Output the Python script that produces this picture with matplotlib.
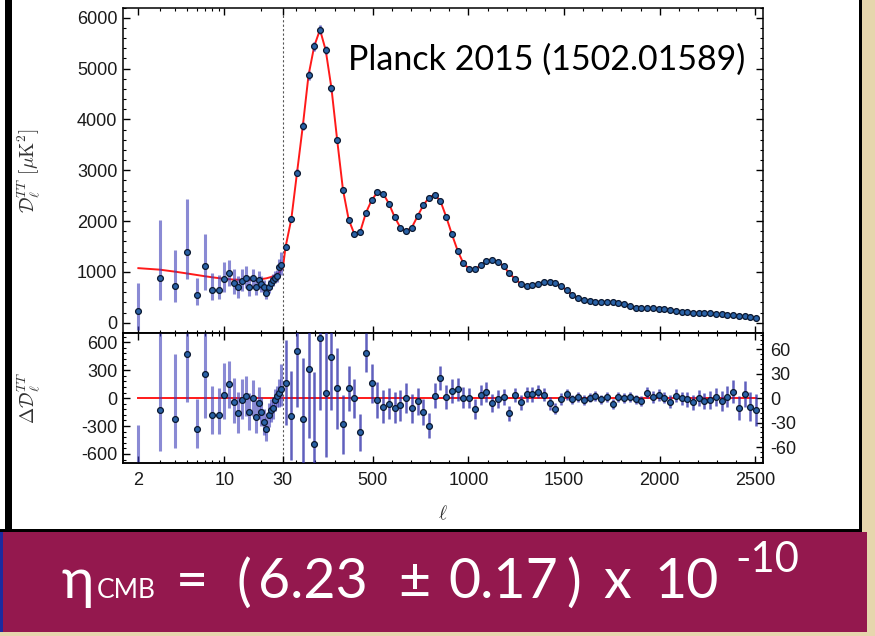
import numpy as np
import matplotlib
matplotlib.use('Agg')
import matplotlib.pyplot as plt
from matplotlib.patches import Rectangle
from matplotlib.ticker import MultipleLocator, FixedLocator

plt.rcParams['axes.unicode_minus'] = False
plt.rcParams['mathtext.fontset'] = 'cm'
plt.rcParams['font.family'] = ['Liberation Sans', 'DejaVu Sans']

# ---- data ----
# low multipoles, one point per ell
ell_lo = [2, 3, 4, 5, 6, 7, 8, 9, 10, 11, 12, 13, 14, 15, 16, 17, 18, 19, 20,
          21, 22, 23, 24, 25, 26, 27, 28, 29]
D_lo = [236, 885, 721, 1389, 544, 1120, 655, 655, 865, 983, 786, 695, 819, 885,
        708, 872, 708, 839, 760, 695, 590, 708, 786, 839, 891, 917, 1101, 1134]
D_lo_upper = [786, 2018, 1429, 2431, 872, 1756, 970, 950, 1200, 1230, 1050, 920,
              1050, 1110, 920, 1060, 890, 1010, 920, 840, 720, 840, 910, 960,
              1010, 1030, 1250, 1400]
D_lo_lower = [-150, 445, 413, 870, 347, 642, 452, 460, 600, 720, 560, 480, 620,
              680, 520, 680, 540, 670, 610, 560, 470, 580, 660, 720, 780, 800,
              950, 950]
res_lo = [-839, -132, -229, 475, -336, 261, -186, -186, 39, 154, -46, -161, -25,
          18, -154, 4, -204, -54, -150, -257, -336, -186, -132, -104, -25, 20,
          60, 100]

# binned high multipoles (delta ell = 30)
ell_hi = [44, 74, 104, 134, 164, 194, 224, 254, 284, 314, 344, 374, 404, 434,
          464, 494, 524, 554, 584, 614, 644, 674, 704, 734, 764, 794, 824, 854,
          884, 914, 944, 974, 1004, 1034, 1064, 1094, 1124, 1154, 1184, 1214,
          1244, 1274, 1304, 1334, 1364, 1394, 1424, 1454, 1484, 1514, 1544,
          1574, 1604, 1634, 1664, 1694, 1724, 1754, 1784, 1814, 1844, 1874,
          1904, 1934, 1964, 1994, 2024, 2054, 2084, 2114, 2144, 2174, 2204,
          2234, 2264, 2294, 2324, 2354, 2384, 2414, 2444, 2474, 2504]
D_hi = [1493, 2037, 2954, 3864, 4866, 5442, 5764, 5358, 4611, 3589, 2620, 2031,
        1743, 1788, 2161, 2411, 2568, 2542, 2346, 2083, 1874, 1802, 1874, 2096,
        2312, 2464, 2522, 2391, 2083, 1737, 1415, 1167, 1061, 1049, 1134, 1212,
        1232, 1199, 1114, 970, 865, 766, 721, 735, 766, 800, 800, 774, 721, 642,
        544, 479, 440, 420, 413, 413, 410, 405, 395, 370, 330, 300, 285, 283,
        283, 280, 272, 258, 240, 222, 208, 200, 195, 190, 185, 180, 172, 162,
        150, 138, 128, 115, 100]
res_hi = [19, -21.5, 57.5, -26, 36, -56, 73.6, 6, 50, 12, -32, 12, 0, -42, 56,
          18, -2.5, -10.6, -7, -12, -8.5, 0, -12.6, -4, -17.5, -33.6, 3, 25, 1.6,
          9, 11, 0.7, 0, -13, 4, 7.6, -6.5, -1.6, 1.6, -18.7, 4, -5.3, 4.8, 4.8,
          8, 4, -6.5, -13, -1.2, 4.8, -1.6, 1.6, -2.4, 0.7, 2.8, -1.6, 1.6, -7.3,
          1.6, 0, 1.6, -1.6, -3.2, 6.9, 1.6, 4, 0.7, -4.5, 2.8, 0, -1.6, -5.3, 0,
          -3.2, -2.4, 1.6, -3.2, 1.6, 8, -12, 4.8, -10.6, -14.6]
err_hi = [52, 55, 68, 75, 85, 88, 88, 78, 65, 50, 36, 28, 24, 23, 24, 24, 22, 20,
          19, 19, 19, 18, 18, 17, 16, 15, 15, 15, 15, 15, 14, 13, 12, 12, 12, 12,
          11, 11, 10, 9, 9, 9, 9, 9, 8, 8, 8, 7, 7, 7, 6, 6, 6, 6, 6, 6, 6, 6, 6,
          6, 6, 6, 6, 7, 7, 7, 7, 8, 8, 8, 9, 9, 10, 10, 11, 11, 12, 13, 14, 15,
          16, 18, 20]

# best-fit curve at low ell
model_lo_ell = [2, 3, 4, 5, 6, 7, 8, 10, 12, 14, 16, 18, 20, 22, 24, 26, 28, 30]
model_lo_D = [1075, 1045, 1005, 970, 940, 915, 895, 865, 850, 845, 845, 850,
              860, 875, 900, 935, 990, 1080]

W, H = 875, 636
K = 0.1913 / 122.9   # linear part in "decades" per unit ell


def fwd(x):
    x = np.asarray(x, dtype=float)
    lx = np.log10(np.clip(x, 1e-3, None))
    return np.where(x <= 30, lx, np.log10(30) + (x - 30) * K)


def inv(y):
    y = np.asarray(y, dtype=float)
    return np.where(y <= np.log10(30), 10 ** np.clip(y, -3, 1.5),
                    30 + (y - np.log10(30)) / K)


def fx(px):
    return px / W


def fy(py):
    return 1 - py / H


fig = plt.figure(figsize=(W / 100, H / 100), dpi=100, facecolor='#e6d6ad')


def rect(x0, y0, x1, y1, color):
    fig.add_artist(Rectangle((fx(x0), fy(y1)), fx(x1) - fx(x0), fy(y0) - fy(y1),
                             transform=fig.transFigure, facecolor=color,
                             edgecolor='none', zorder=-5))


# slide frame
rect(0, 0, 862, 532, 'black')
rect(12, 0, 859, 529, 'white')
rect(0, 0, 5, 529, 'white')
rect(0, 532, 867, 632, '#94184e')
rect(0, 532, 3, 632, '#1c2aa0')

ax1 = fig.add_axes([fx(123), fy(333), 640 / W, (333 - 7.5) / H])
ax2 = fig.add_axes([fx(123), fy(463.3), 640 / W, 130.3 / H], sharex=ax1)
ax1.set_xscale('function', functions=(fwd, inv))
ax1.set_xlim(1.5, 2540)
ax1.set_ylim(-200, 6200)
ax2.set_ylim(-700, 700)

err_lo_lo = np.array(D_lo) - np.array(D_lo_lower)
err_lo_hi = np.array(D_lo_upper) - np.array(D_lo)

pt = dict(fmt='o', ms=4.2, mfc='#2a62a6', mec='#0b1830', mew=0.9, capsize=0)
bar_lo = dict(ecolor=(0.24, 0.24, 0.72, 0.6), elinewidth=2.2)
bar_hi = dict(ecolor=(0.17, 0.17, 0.66, 0.75), elinewidth=1.8)
red = '#ff1a1a'
dot = dict(color='#555555', lw=0.8, ls=(0, (2, 2)), zorder=1)

# top panel
ax1.plot(model_lo_ell + ell_hi, model_lo_D + D_hi, color=red, lw=1.4, zorder=2)
ax1.errorbar(ell_lo, D_lo, yerr=[err_lo_lo, err_lo_hi], zorder=3, **pt, **bar_lo)
ax1.errorbar(ell_hi, D_hi, yerr=err_hi, zorder=3, **pt, **bar_hi)
ax1.axvline(30, **dot)

# residual panel
ax2.plot([2, 2504], [0, 0], color=red, lw=1.4, zorder=2)
ax2.errorbar(ell_lo, res_lo, yerr=[err_lo_lo, err_lo_hi], zorder=3, **pt, **bar_lo)
ax2.axvline(30, **dot)
ax3 = ax2.twinx()
ax3.set_ylim(-80, 80)
ax3.errorbar(ell_hi, res_hi, yerr=err_hi, zorder=3, **pt, **bar_hi)

# ticks
xmaj = [2, 10, 30, 500, 1000, 1500, 2000, 2500]
xmin = [3, 4, 5, 6, 7, 8, 9, 20] + [v for v in range(100, 2500, 100) if v % 500]
ax1.xaxis.set_major_locator(FixedLocator(xmaj))
ax1.xaxis.set_minor_locator(FixedLocator(xmin))
ax2.set_xticklabels([str(v) for v in xmaj])
ax1.yaxis.set_major_locator(FixedLocator([0, 1000, 2000, 3000, 4000, 5000, 6000]))
ax1.yaxis.set_minor_locator(MultipleLocator(200))
ax2.yaxis.set_major_locator(FixedLocator([-600, -300, 0, 300, 600]))
ax2.yaxis.set_minor_locator(MultipleLocator(60))
ax3.yaxis.set_major_locator(FixedLocator([-60, -30, 0, 30, 60]))
ax3.yaxis.set_minor_locator(MultipleLocator(6))

tick_col = '#1a1a1a'
for ax in (ax1, ax2, ax3):
    ax.tick_params(which='major', direction='in', length=5, width=1,
                   labelsize=13, labelcolor=tick_col, pad=4)
    ax.tick_params(which='minor', direction='in', length=2.5, width=0.8)
    for s in ax.spines.values():
        s.set_linewidth(1.1)
ax1.tick_params(which='both', top=True, right=True, labelbottom=False)
ax2.tick_params(which='both', top=True, bottom=True, left=True, right=False)
ax2.tick_params(axis='x', which='major', pad=6)
ax3.tick_params(which='both', left=False, right=True, pad=5)

ax1.set_ylabel(r'$\mathcal{D}_\ell^{TT}\ [\mu\mathrm{K}^2]$', fontsize=14,
               color='#333333')
ax1.yaxis.set_label_coords((42 - 123) / 640, 0.5)
ax2.set_ylabel(r'$\Delta\mathcal{D}_\ell^{TT}$', fontsize=14, color='#333333')
ax2.yaxis.set_label_coords((42 - 123) / 640, 0.5)
ax2.set_xlabel(r'$\ell$', fontsize=14, color='#333333')
ax2.xaxis.set_label_coords(0.5, (463.3 - 505) / 130.3)

fig.text(fx(348), fy(70), 'Planck 2015 (1502.01589)', fontsize=24.5,
         family=['Lato', 'DejaVu Sans'], va='baseline', color='black')

# banner formula, token by token
hand = dict(color='white', family=['Lato', 'DejaVu Sans'], va='baseline')
tokens = [(61, 598, 'η', 40), (97, 598, 'CMB', 19), (176, 598, '=', 40),
          (236, 600, '(', 40), (258, 598, '6.23', 40), (398, 598, '±', 40),
          (448, 598, '0.17', 40), (566, 600, ')', 40), (603, 598, 'x', 40),
          (655, 598, '10', 40), (735, 572, '-10', 30)]
for tx, ty, s, size in tokens:
    fig.text(fx(tx), fy(ty), s, fontsize=size, **hand)

fig.savefig('out.png', dpi=100, facecolor=fig.get_facecolor())
